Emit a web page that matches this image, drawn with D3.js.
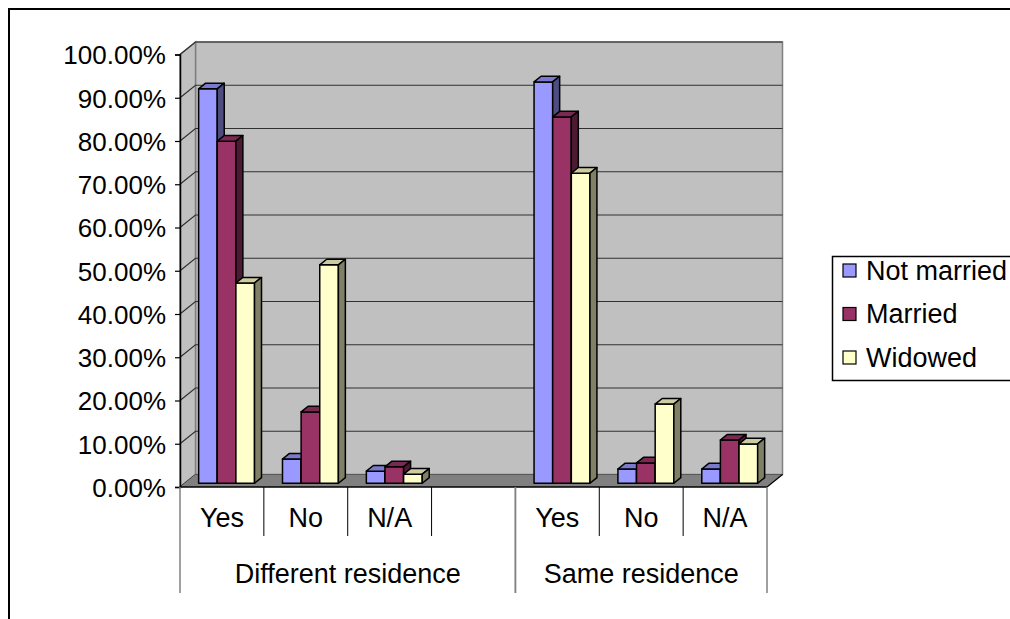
<!DOCTYPE html>
<html>
<head>
<meta charset="utf-8">
<script src="https://cdn.jsdelivr.net/npm/d3@7"></script>
<style>
  html, body { margin: 0; padding: 0; background: #fff; }
  svg { display: block; }
  text { font-family: "Liberation Sans", Arial, sans-serif; fill: #000; }
</style>
</head>
<body>
<svg id="chart" width="1010" height="619"></svg>
<script>
// Category axis: inner labels and the outer group each belongs to
const categories = ["Yes", "No", "N/A", "", "Yes", "No", "N/A"];
const categoryGroup = [0, 0, 0, 0, 1, 1, 1];
const groups = ["Different residence", "Same residence"];

// Series (percent)
const seriesNames = ["Not married", "Married", "Widowed"];
const notMarried = [91.2, 5.6, 2.8, null, 92.8, 3.3, 3.3];
const married    = [79.1, 16.5, 3.8, null, 84.7, 4.7, 10.0];
const widowed    = [46.3, 50.5, 2.1, null, 71.7, 18.3, 9.1];
const seriesValues = [notMarried, married, widowed];

// Value axis ticks
const yTicks = [0, 10, 20, 30, 40, 50, 60, 70, 80, 90, 100];

// Face colours per series: front, top, side
const faceColors = [
  { front: "#9999ff", top: "#7a7acc", side: "#4d4d80" },
  { front: "#993366", top: "#7a2952", side: "#4d1a33" },
  { front: "#ffffcc", top: "#cccca3", side: "#808066" }
];

const svg = d3.select("#chart");

// Outer chart frame
svg.append("rect")
  .attr("x", 9).attr("y", 9).attr("width", 1200).attr("height", 800)
  .attr("fill", "none").attr("stroke", "#000").attr("stroke-width", 2);

// Plot geometry
const x0 = 180, x1 = 767;
const DX = 15.5, DY = 12.5;   // oblique offset of the full depth
const x = d3.scaleBand().domain(d3.range(categories.length)).range([x0, x1]);
const inner = d3.scaleBand().domain(seriesNames).range([0, x.bandwidth()])
  .paddingInner(0).paddingOuter(0.75);
const y = d3.scaleLinear().domain([0, 100]).range([487, 54.5]);

// Project a point (screen x on the front plane, value, depth fraction)
const P = (px, v, z) => [px + z * DX, y(v) - z * DY];
const poly = pts => "M" + pts.map(p => p.join(",")).join("L") + "Z";

// Walls
const wallColor = "#c0c0c0";
svg.append("path") // back wall
  .attr("d", poly([P(x0, 100, 1), P(x1, 100, 1), P(x1, 0, 1), P(x0, 0, 1)]))
  .attr("fill", wallColor).attr("stroke", "#808080").attr("stroke-width", 1.5);
svg.append("path") // side wall
  .attr("d", poly([P(x0, 100, 0), P(x0, 100, 1), P(x0, 0, 1), P(x0, 0, 0)]))
  .attr("fill", wallColor).attr("stroke", "#808080").attr("stroke-width", 1.5);

// Gridlines on both walls
const grid = svg.append("g").attr("fill", "none").attr("stroke", "#303030").attr("stroke-width", 1.2);
yTicks.forEach(t => {
  grid.append("path").attr("d", "M" + [P(x0, t, 0), P(x0, t, 1), P(x1, t, 1)].map(p => p.join(",")).join("L"));
});

// Floor
svg.append("path")
  .attr("d", poly([P(x0, 0, 0), P(x1, 0, 0), P(x1, 0, 1), P(x0, 0, 1)]))
  .attr("fill", "#808080").attr("stroke", "none");
svg.append("path")
  .attr("d", "M" + [P(x1, 0, 0), P(x1, 0, 1)].map(p => p.join(",")).join("L"))
  .attr("stroke", "#000").attr("stroke-width", 1.2);

// Bars: drawn left to right so each hides its neighbour's side face
const z0 = 0.3, z1 = 0.75;
const bars = svg.append("g").attr("stroke", "#000").attr("stroke-width", 1.5).attr("stroke-linejoin", "round");
categories.forEach((c, i) => {
  seriesNames.forEach((s, k) => {
    const v = seriesValues[k][i];
    if (v == null) return;
    const a = x(i) + inner(s), b = a + inner.bandwidth();
    const col = faceColors[k];
    bars.append("path").attr("fill", col.front)
      .attr("d", poly([P(a, 0, z0), P(b, 0, z0), P(b, v, z0), P(a, v, z0)]));
    bars.append("path").attr("fill", col.top)
      .attr("d", poly([P(a, v, z0), P(b, v, z0), P(b, v, z1), P(a, v, z1)]));
    bars.append("path").attr("fill", col.side)
      .attr("d", poly([P(b, 0, z0), P(b, 0, z1), P(b, v, z1), P(b, v, z0)]));
  });
});

// Value axis
const yAxis = d3.axisLeft(y).tickValues(yTicks).tickSize(5).tickPadding(9)
  .tickFormat(d => d3.format(".2f")(d) + "%");
const yg = svg.append("g").attr("transform", `translate(${x0},0)`).call(yAxis);
yg.select(".domain").attr("stroke", "#000").attr("stroke-width", 1.5);
yg.selectAll(".tick line").attr("stroke", "#000").attr("stroke-width", 1.2);
yg.selectAll(".tick text").attr("font-size", 26).attr("font-family", "Liberation Sans, Arial, sans-serif").attr("dy", "0.36em");

// Category axis line
svg.append("line").attr("x1", x0).attr("x2", x1).attr("y1", y(0)).attr("y2", y(0))
  .attr("stroke", "#000").attr("stroke-width", 1.5);

// Inner category dividers and labels
const catG = svg.append("g");
categories.forEach((c, i) => {
  if (i > 0 && categoryGroup[i] === categoryGroup[i - 1]) {
    catG.append("line").attr("x1", x(i)).attr("x2", x(i)).attr("y1", y(0)).attr("y2", 536)
      .attr("stroke", "#000").attr("stroke-width", 1);
  }
  catG.append("text").attr("x", x(i) + x.bandwidth() / 2).attr("y", 527)
    .attr("text-anchor", "middle").attr("font-size", 27).text(c);
});

// Outer group dividers and labels
groups.forEach((g, gi) => {
  const idx = categoryGroup.map((d, i) => d === gi ? i : -1).filter(i => i >= 0);
  const gx0 = x(idx[0]), gx1 = x(idx[idx.length - 1]) + x.bandwidth();
  catG.append("text").attr("x", (gx0 + gx1) / 2).attr("y", 583)
    .attr("text-anchor", "middle").attr("font-size", 27).text(g);
  [gx0, gx1].forEach(px => {
    catG.append("line").attr("x1", px).attr("x2", px).attr("y1", y(0)).attr("y2", 593)
      .attr("stroke", "#808080").attr("stroke-width", 1.5);
  });
});

// Legend
const legend = svg.append("g");
legend.append("rect").attr("x", 832.5).attr("y", 256.5).attr("width", 300).attr("height", 124)
  .attr("fill", "#fff").attr("stroke", "#000").attr("stroke-width", 1.5);
seriesNames.forEach((s, k) => {
  const cy = 270 + k * 43.5;
  legend.append("rect").attr("x", 843).attr("y", cy - 6).attr("width", 13).attr("height", 13)
    .attr("fill", faceColors[k].front).attr("stroke", "#000").attr("stroke-width", 1.2);
  legend.append("text").attr("x", 866).attr("y", cy).attr("dy", "0.36em")
    .attr("font-size", 27).text(s);
});
</script>
</body>
</html>
